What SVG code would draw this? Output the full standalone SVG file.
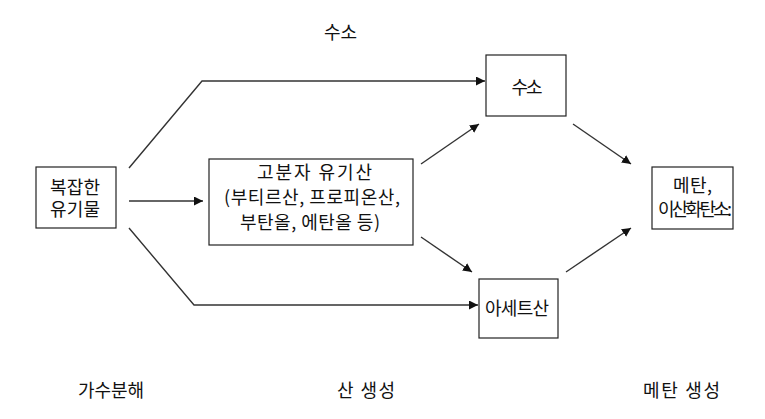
<svg xmlns="http://www.w3.org/2000/svg" width="765" height="419" viewBox="0 0 765 419">
<style>
.box{fill:#fff;stroke:#222;stroke-width:1.2}
.t{font-family:"Noto Sans CJK KR","Noto Sans",sans-serif;font-size:18px;fill:#111}
.c{text-anchor:middle}
.ln{fill:none;stroke:#333;stroke-width:1.4}
</style>
<defs>
<marker id="ah" markerUnits="userSpaceOnUse" markerWidth="10" markerHeight="10" refX="9" refY="4.5" orient="auto">
<path d="M0,0 L9,4.5 L0,9 z" fill="#111"/>
</marker>
</defs>
<rect width="765" height="419" fill="#fff"/>
<g id="stage-labels">
<text class="t c" x="340.5" y="39" textLength="33">수소</text>
<text class="t c" x="111" y="397" textLength="66">가수분해</text>
<text class="t c" x="366" y="397" textLength="58">산 생성</text>
<text class="t c" x="681.5" y="397" textLength="77">메탄 생성</text>
</g>
<g id="connectors">
<polyline class="ln" points="129,168 202,81 485,81" marker-end="url(#ah)"/>
<line class="ln" x1="129" y1="201" x2="203" y2="201" marker-end="url(#ah)"/>
<polyline class="ln" points="129,228 194,305 478,305" marker-end="url(#ah)"/>
<line class="ln" x1="421" y1="164" x2="479" y2="124" marker-end="url(#ah)"/>
<line class="ln" x1="421" y1="237" x2="472" y2="272" marker-end="url(#ah)"/>
<line class="ln" x1="573" y1="124" x2="631" y2="164" marker-end="url(#ah)"/>
<line class="ln" x1="566" y1="272" x2="631" y2="228" marker-end="url(#ah)"/>
</g>
<g id="node-complex">
<rect class="box" x="36" y="167" width="80" height="61"/>
<text class="t c" x="75" y="194" textLength="50">복잡한</text>
<text class="t c" x="75" y="216" textLength="50">유기물</text>
</g>
<g id="node-acids">
<rect class="box" x="209" y="159" width="204" height="86"/>
<text class="t c" x="314.5" y="179" textLength="115">고분자 유기산</text>
<text class="t c" x="312" y="204" textLength="176">(부티르산, 프로피온산,</text>
<text class="t c" x="310" y="229" textLength="140">부탄올, 에탄올 등)</text>
</g>
<g id="node-hydrogen">
<rect class="box" x="486" y="55" width="80" height="61"/>
<text class="t c" x="527" y="94" textLength="31">수소</text>
</g>
<g id="node-acetate">
<rect class="box" x="479" y="279" width="79" height="59"/>
<text class="t c" x="517" y="315" textLength="64">아세트산</text>
</g>
<g id="node-methane">
<rect class="box" x="652" y="167" width="81" height="62"/>
<text class="t" x="673" y="192" textLength="39">메탄,</text>
<text class="t" x="658" y="216" font-size="16.5" textLength="74">이산화탄소:</text>
</g>
</svg>
